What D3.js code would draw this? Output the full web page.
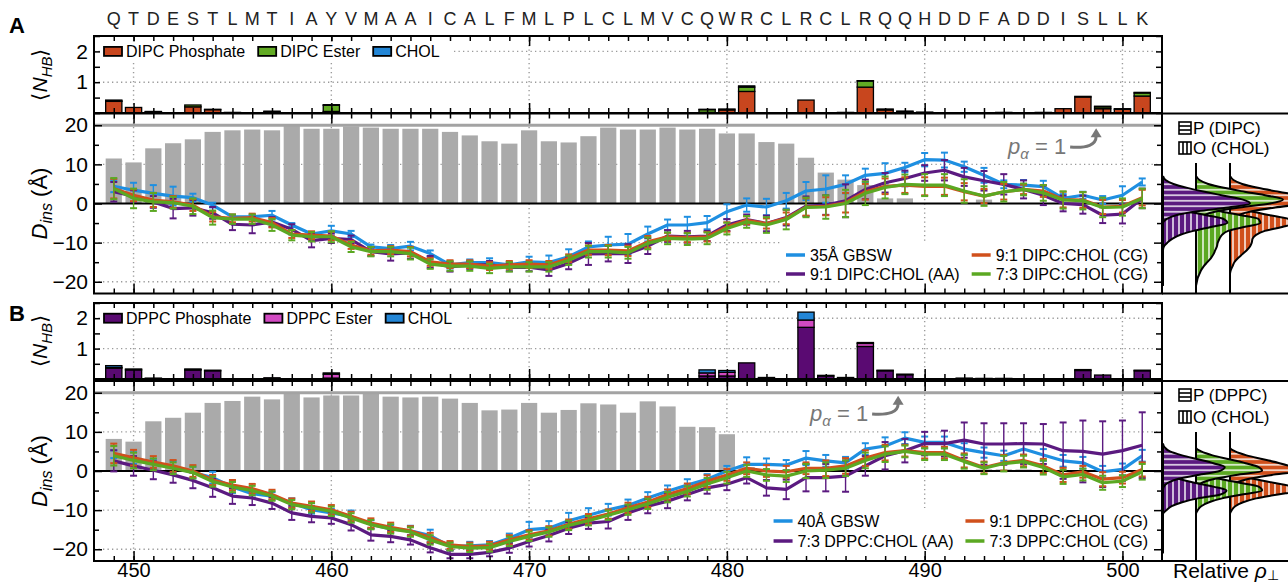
<!DOCTYPE html>
<html><head><meta charset="utf-8">
<script src="https://cdn.jsdelivr.net/npm/d3@7"></script>
<style>body{margin:0;background:#fff}svg{display:block}</style>
</head><body>
<svg id="c" width="1288" height="584"></svg>
<script>
// ---------------- DATA ----------------
const residues = [449,450,451,452,453,454,455,456,457,458,459,460,461,462,463,464,465,466,467,468,469,470,471,472,473,474,475,476,477,478,479,480,481,482,483,484,485,486,487,488,489,490,491,492,493,494,495,496,497,498,499,500,501];
const residueLetters = "QTDESTLMTIAYVMAAICALFMLPLCLMVCQWRCLRCLRQQHDDFADDISLLK".split("");
const xTickValues = [450,460,470,480,490,500];
const dTickLabels = [-20,-10,0,10,20];
const nhbTickLabels = [1,2];

// Panel A
const helixA = [11.5,10.5,14.1,15.4,16.4,18.3,18.7,18.9,18.7,19.8, 19.1,19.1,19.7,19.4,19.1,19.1,19.1,18.3,17.4,15.9, 15.3,18.7,15.9,15.6,17.2,19.4,18.9,18.9,19.4,18.9, 19.1,17.9,17.9,15.7,15.3,11.7,7.9,6.1,4.7,1.3, 1.3,0,0,0,1.0,0,0,0,0,0, 0,0,0];
const gbswA = [4.4,3.4,2.6,1.9,1.5,-0.4,-3.4,-3.4,-3.0,-5.5, -7.8,-7.0,-7.8,-11.1,-11.5,-10.9,-12.8,-15.7,-15.1,-15.1, -15.7,-14.9,-15.1,-13.6,-11.1,-10.6,-10.4,-7.8,-5.5,-5.5, -4.9,-2.1,-0.4,-0.9,0.7,3.2,3.7,4.9,7.2,7.7, 9.2,11.2,11.1,9.4,7.2,4.9,4.7,4.3,1.3,2.1, 0.9,2.1,5.5];
const gbswAErr = [1.5,1.9,2.1,2.4,1.0,0.6,0.5,0.5,1.1,0.5, 0.5,1.3,0.8,0.6,0.9,1.1,0.8,0.9,0.8,1.1, 0.8,1.3,1.8,1.9,1.4,2.1,2.6,1.9,1.4,2.1, 1.7,1.9,1.7,2.1,2.0,2.3,3.5,2.3,1.7,2.6, 1.2,1.7,1.9,1.3,1.9,1.0,1.3,1.5,1.1,0.9, 1.0,2.3,0.9];
const aaA = [3.0,1.9,0.4,-1.3,-1.1,-2.4,-5.3,-5.5,-4.7,-6.6, -9.5,-8.9,-9.2,-12.3,-12.9,-12.6,-14.9,-16.2,-15.7,-15.7, -16.3,-16.3,-17.0,-15.3,-12.9,-12.8,-12.8,-10.9,-8.3,-8.5, -8.3,-5.5,-4.1,-5.1,-3.6,-0.7,-0.4,0.7,3.6,5.3, 6.4,7.8,8.5,6.8,5.8,4.9,3.6,2.1,0.0,-0.3, -3.0,-2.7,1.3];
const aaAErr = [2.5,1.5,1.5,2.5,2.0,1.5,1.5,2.1,1.2,1.3, 1.7,1.2,1.0,1.1,1.7,1.5,1.5,1.2,1.0,1.0, 1.0,1.0,1.5,1.5,2.8,2.0,2.4,2.0,1.5,1.5, 1.3,1.5,1.3,2.0,2.0,2.5,2.5,4.2,2.5,2.5, 2.0,2.0,2.6,2.3,2.5,2.6,2.3,2.5,2.0,2.3, 2.0,2.4,2.5];
const cg91A = [3.8,2.1,0.9,0.4,-0.4,-3.4,-3.8,-3.6,-4.9,-7.8, -8.1,-8.3,-10.6,-12.1,-11.9,-12.3,-14.9,-15.5,-15.5,-16.0, -15.7,-15.5,-15.7,-14.0,-11.9,-11.9,-12.1,-9.8,-8.5,-8.7, -8.5,-6.0,-4.3,-5.1,-3.8,-0.9,-0.7,0.2,3.0,4.4, 4.7,4.4,4.4,3.0,1.9,3.0,3.6,3.2,1.0,0.9, -0.9,-0.7,1.5];
const cg91AErr = [2.5,1.5,1.8,1.5,1.5,1.2,1.0,1.0,1.2,1.0, 1.0,1.1,1.0,1.0,1.0,1.2,1.0,1.0,1.0,1.0, 1.0,1.0,1.0,1.0,1.2,1.3,1.3,1.5,1.0,1.2, 1.2,1.2,1.0,1.3,1.5,2.2,2.3,2.5,2.0,2.0, 2.0,2.3,2.2,2.2,1.8,2.0,1.2,1.5,2.0,2.0, 1.8,1.6,2.0];
const cg73A = [3.8,1.3,0.4,0.2,-0.7,-3.6,-4.0,-4.0,-5.5,-8.1, -8.5,-8.5,-11.1,-12.3,-12.3,-12.8,-15.5,-16.0,-16.0,-16.6, -16.2,-16.2,-16.2,-14.5,-12.3,-12.3,-12.6,-10.2,-8.9,-9.1, -8.9,-6.4,-4.7,-5.5,-4.1,-1.0,-0.9,0.0,2.6,4.1, 4.9,4.7,4.7,3.2,1.9,3.0,3.6,2.7,0.9,0.7, -1.0,-0.9,1.3];
const cg73AErr = [2.7,2.5,2.3,1.5,2.0,1.8,1.2,1.2,1.5,1.3, 1.2,1.4,1.3,1.2,1.2,1.5,1.2,1.2,1.2,1.2, 1.2,1.2,1.2,1.2,1.5,1.5,1.5,1.5,1.5,1.5, 1.5,1.5,1.5,2.0,2.5,2.5,3.0,3.5,3.0,2.8, 2.5,2.8,2.8,3.0,2.5,2.5,1.5,2.0,2.2,2.2, 2.5,2.2,2.5];
const hbPhosA = [0.38,0.18,0.04,0.01,0.20,0.11,0.02,0,0.04,0, 0,0.05,0,0,0,0,0,0,0,0, 0,0,0,0,0,0,0,0,0,0, 0.02,0.10,0.70,0,0.01,0.42,0.01,0.02,0.84,0.10, 0.05,0.03,0.01,0,0.01,0.02,0.01,0.02,0.14,0.52, 0.14,0.12,0.55];
const hbEsterA = [0.01,0,0,0,0.06,0.01,0,0,0,0, 0,0.20,0,0,0,0,0,0,0,0, 0,0,0,0,0,0,0,0,0,0, 0.09,0.03,0.14,0,0,0,0,0,0.20,0, 0,0,0,0,0,0,0,0,0,0, 0.06,0,0.10];
const hbCholA = [0.03,0,0.01,0,0,0,0,0,0.02,0, 0,0.02,0,0,0,0,0,0,0,0, 0,0,0,0,0,0,0,0,0,0, 0.01,0,0.04,0,0,0,0,0,0.01,0.03, 0.01,0,0,0,0,0,0,0,0,0.02, 0.02,0.02,0.02];

// Panel B
const helixB = [8.2,7.5,12.7,13.6,14.9,17.4,17.9,19.0,18.3,19.7, 18.8,19.3,19.3,19.9,19.0,18.8,19.0,18.5,17.4,15.5, 15.7,17.4,14.9,15.6,17.3,17.0,14.9,17.8,16.5,11.3, 11.2,9.4,1.0,0,0,0,0,0,0,0, 0,0,0,0,0.4,0.4,0.4,0,0,0, 0,0,0];
const gbswB = [4.3,3.3,1.9,1.0,-0.4,-1.7,-4.1,-5.8,-6.4,-8.2, -9.9,-10.7,-11.6,-13.6,-14.8,-15.3,-16.5,-19.3,-19.1,-18.9, -17.2,-15.0,-14.6,-12.7,-11.3,-9.9,-8.8,-6.9,-5.2,-3.6, -2.1,0.0,1.7,1.7,1.5,3.3,2.6,2.1,5.6,6.4, 8.4,7.3,7.3,5.6,4.7,3.9,5.6,4.1,2.6,2.1, -0.2,0.4,3.9];
const gbswBErr = [1.0,1.5,1.2,1.5,1.5,1.5,1.5,1.0,1.0,1.2, 1.0,1.0,1.5,1.0,1.0,1.3,1.5,1.0,1.0,1.0, 1.2,2.0,1.8,2.0,1.8,1.5,1.5,1.5,1.5,1.5, 1.3,1.3,1.8,1.5,1.3,1.8,1.5,1.5,1.5,2.2, 1.5,1.5,1.5,1.5,1.3,1.3,1.5,1.5,1.5,1.5, 1.5,1.5,1.5];
const aaB = [2.6,1.3,0.2,-1.0,-2.4,-4.3,-6.4,-6.9,-8.2,-10.7, -11.6,-12.0,-13.7,-16.3,-16.7,-17.6,-19.6,-21.3,-21.3,-20.8, -19.7,-18.0,-16.5,-14.6,-13.3,-12.9,-10.7,-9.0,-7.7,-6.0, -4.3,-3.4,-1.7,-4.3,-4.7,-1.7,-1.7,-1.3,1.3,3.9, 5.2,7.0,7.0,7.9,6.9,6.9,7.0,6.9,5.2,5.0, 4.3,5.2,6.6];
const aaBErr = [2.7,2.5,2.3,2.0,2.0,2.3,2.0,1.8,1.5,1.8, 1.5,1.5,1.5,1.5,1.5,1.2,1.2,1.0,1.0,1.0, 1.2,1.3,1.5,1.5,1.5,1.8,1.8,1.8,1.8,1.5, 1.5,1.5,1.5,2.0,2.5,3.5,3.5,4.0,2.5,3.5, 3.0,3.0,3.3,4.5,5.3,5.3,5.2,5.1,7.2,7.9, 8.4,7.7,8.4];
const cg91B = [4.5,3.4,2.3,1.3,0.0,-2.3,-3.6,-4.5,-6.0,-8.2, -9.0,-9.9,-11.6,-13.3,-14.4,-15.3,-17.0,-18.9,-19.3,-19.1, -17.6,-16.3,-15.3,-13.6,-12.2,-11.0,-9.4,-7.9,-6.0,-4.5, -2.6,-1.0,0.7,0.0,-0.2,0.7,0.7,1.3,3.3,4.7, 5.2,4.7,4.7,2.7,0.9,2.1,2.7,1.3,-1.0,-0.2, -2.1,-1.7,0.4];
const cg91BErr = [2.5,2.0,1.5,1.5,1.5,1.3,1.3,1.2,1.2,1.2, 1.2,1.2,1.2,1.2,1.2,1.2,1.2,1.0,1.0,1.0, 1.2,1.2,1.2,1.2,1.2,1.2,1.3,1.3,1.3,1.3, 1.5,1.5,1.5,1.5,1.5,1.5,2.0,2.0,2.0,2.0, 1.5,1.5,1.5,1.8,1.5,2.0,1.5,1.8,1.8,1.5, 1.8,1.5,1.8];
const cg73B = [3.9,2.7,1.7,0.7,-0.4,-2.7,-4.1,-5.0,-6.4,-8.6, -9.4,-10.3,-12.0,-13.7,-14.8,-15.6,-17.6,-19.3,-19.7,-19.6, -18.0,-16.7,-15.6,-13.9,-12.7,-11.3,-9.9,-8.4,-6.7,-5.2, -3.3,-1.7,0.0,-1.0,-1.3,0.0,0.2,0.7,2.7,4.3, 5.0,4.3,4.3,2.4,0.7,1.9,2.4,0.9,-1.5,-0.9, -3.0,-2.6,-0.2];
const cg73BErr = [2.5,2.0,1.5,1.5,1.5,1.3,1.3,1.2,1.2,1.2, 1.2,1.2,1.2,1.2,1.2,1.2,1.2,1.0,1.0,1.0, 1.2,1.2,1.2,1.2,1.2,1.2,1.3,1.3,1.3,1.3, 1.5,1.5,1.5,1.5,1.5,1.8,2.0,2.0,2.0,2.0, 1.5,1.5,1.5,1.8,1.5,2.0,1.5,1.8,1.8,1.5, 1.8,1.5,2.0];
const hbPhosB = [0.36,0.30,0.03,0.01,0.30,0.27,0.01,0,0.04,0, 0,0.03,0,0,0,0,0,0,0,0, 0,0,0,0,0,0,0,0,0,0, 0.10,0.10,0.53,0.05,0.01,1.70,0.10,0.05,1.07,0.27, 0.14,0.01,0.01,0.03,0.02,0.02,0.01,0.01,0.01,0.28, 0.13,0.01,0.27];
const hbEsterB = [0.02,0,0,0,0.01,0,0,0,0,0, 0,0.13,0,0,0,0,0,0,0,0, 0,0,0,0,0,0,0,0,0,0, 0.10,0.12,0,0,0,0.24,0,0,0.10,0, 0,0,0,0,0,0,0,0,0,0, 0,0,0];
const hbCholB = [0.06,0.03,0,0,0.02,0.02,0,0,0,0, 0,0.04,0,0,0,0,0,0,0,0, 0,0,0,0,0,0,0,0,0,0, 0.10,0.06,0,0,0,0.26,0.02,0,0.03,0.02, 0.02,0,0,0,0,0,0,0,0,0.03, 0,0,0.02];

// Side panels: relative density profiles vs depth
const zGrid = [7,6,5,4,3,2,1,0,-1,-2,-3,-4,-5,-6,-7,-8,-9,-10,-11,-12,-13,-14,-15,-16,-17,-18,-19,-20,-21];
const rhoPurpleA_P = [0,0.03,0.12,0.28,0.48,0.70,0.92,1.0,0.75,0.40,0.15,0.04,0,0,0,0,0,0,0,0,0,0,0,0,0,0,0,0,0];
const rhoPurpleA_O = [0,0,0,0,0,0,0,0.04,0.12,0.27,0.50,0.70,0.74,0.55,0.35,0.20,0.11,0.05,0.01,0,0,0,0,0,0,0,0,0,0];
const rhoGreenA_P  = [0,0.04,0.14,0.32,0.56,0.82,1.0,0.85,0.50,0.24,0.09,0.02,0,0,0,0,0,0,0,0,0,0,0,0,0,0,0,0,0];
const rhoGreenA_O  = [0,0,0,0,0,0,0,0.04,0.12,0.28,0.52,0.72,0.74,0.55,0.37,0.30,0.27,0.25,0.24,0.22,0.20,0.17,0.13,0.09,0.06,0.04,0.02,0.01,0];
const rhoOrangeA_P = [0,0.04,0.14,0.32,0.56,0.82,1.0,0.88,0.52,0.25,0.09,0.02,0,0,0,0,0,0,0,0,0,0,0,0,0,0,0,0,0];
const rhoOrangeA_O = [0,0,0,0,0,0,0,0.03,0.10,0.24,0.46,0.68,0.74,0.60,0.40,0.30,0.26,0.25,0.23,0.19,0.14,0.09,0.05,0.03,0.01,0,0,0,0];
const rhoPurpleB_P = [0,0.02,0.08,0.22,0.40,0.58,0.71,0.65,0.40,0.18,0.06,0.01,0,0,0,0,0,0,0,0,0,0,0,0,0,0,0,0,0];
const rhoPurpleB_O = [0,0,0,0,0,0,0,0.02,0.07,0.18,0.36,0.58,0.73,0.66,0.40,0.22,0.10,0.04,0,0,0,0,0,0,0,0,0,0,0];
const rhoGreenB_P  = [0,0,0.06,0.19,0.38,0.57,0.72,0.76,0.46,0.22,0.07,0.02,0,0,0,0,0,0,0,0,0,0,0,0,0,0,0,0,0];
const rhoGreenB_O  = [0,0,0,0,0,0,0,0.04,0.11,0.27,0.50,0.72,0.76,0.53,0.30,0.15,0.06,0.02,0,0,0,0,0,0,0,0,0,0,0];
const rhoOrangeB_P = [0,0,0.06,0.19,0.38,0.57,0.72,0.78,0.48,0.22,0.07,0.02,0,0,0,0,0,0,0,0,0,0,0,0,0,0,0,0,0];
const rhoOrangeB_O = [0,0,0,0,0,0,0,0.04,0.11,0.27,0.50,0.72,0.78,0.55,0.30,0.15,0.06,0.02,0,0,0,0,0,0,0,0,0,0,0];

// ---------------- STYLE ----------------
const FONT = '"Liberation Sans", Arial, Helvetica, sans-serif';
const C = {blue:"#1e8fe1", purple:"#5b1a80", orange:"#d0501c", green:"#5ba822", gray:"#aaaaaa",
  phosA:"#c8461e", esterA:"#62ab24", chol:"#2386d6", phosB:"#5a0a72", esterB:"#d24ac2", grid:"#9a9a9a"};

const svg = d3.select("#c").style("font-family", FONT);
const defs = svg.append("defs");
const x = d3.scaleLinear().domain([448,502]).range([94,1162]);
const unit = x(449) - x(448);
const barW = unit * 0.82;
const X0 = 94, X1 = 1162;

function mkPattern(id, color, dir){
  const w = dir === "h" ? 8 : 6, h = dir === "h" ? 5.5 : 8;
  const p = defs.append("pattern").attr("id", id).attr("patternUnits","userSpaceOnUse").attr("width", w).attr("height", h);
  p.append("rect").attr("width", w).attr("height", h).attr("fill", color);
  if (dir === "h") p.append("line").attr("x1",0).attr("x2",w).attr("y1",h/2).attr("y2",h/2).attr("stroke","#fff").attr("stroke-width",1.4);
  else p.append("line").attr("x1",w/2).attr("x2",w/2).attr("y1",0).attr("y2",h).attr("stroke","#fff").attr("stroke-width",1.4);
}
[["purple",C.purple],["green",C.green],["orange",C.orange]].forEach(([n,c]) => { mkPattern("ph-"+n, c, "h"); mkPattern("pv-"+n, c, "v"); });

function styleAxis(g){ g.select(".domain").remove(); g.selectAll(".tick line").attr("stroke","#000").attr("stroke-width",1.5); g.selectAll("text").attr("font-family",FONT).attr("fill","#000"); }

function xTicks(yTop, yBot){
  [[yBot, d3.axisBottom], [yTop, d3.axisTop]].forEach(([yy, ax]) => {
    svg.append("g").attr("transform",`translate(0,${yy})`).call(ax(x).tickValues(residues).tickSize(-5).tickFormat("")).call(styleAxis);
    svg.append("g").attr("transform",`translate(0,${yy})`).call(ax(x).tickValues(xTickValues).tickSize(-10).tickFormat("")).call(styleAxis);
  });
}
function vGrid(yTop, yBot){
  svg.append("g").selectAll("line").data(xTickValues).join("line")
    .attr("x1", d => x(d)).attr("x2", d => x(d)).attr("y1", yTop).attr("y2", yBot)
    .attr("stroke", C.grid).attr("stroke-width",1.4).attr("stroke-dasharray","1.3,3.2");
}
function hGrid(y, vals){
  svg.append("g").selectAll("line").data(vals).join("line")
    .attr("x1", X0).attr("x2", X1).attr("y1", d => y(d)).attr("y2", d => y(d))
    .attr("stroke", C.grid).attr("stroke-width",1.4).attr("stroke-dasharray","1.3,3.2");
}
function frame(yTop, yBot){
  svg.append("rect").attr("x",X0).attr("y",yTop).attr("width",X1-X0).attr("height",yBot-yTop)
    .attr("fill","none").attr("stroke","#000").attr("stroke-width",2);
}

// ---------------- NHB PANEL ----------------
function drawNHB(yTop, yBot, phos, ester, chol, cols, names){
  const y = d3.scaleLinear().domain([0,2.5]).range([yBot, yTop]);
  vGrid(yTop, yBot);
  hGrid(y, [1,2]);
  const rows = residues.map((r,i) => ({r, p:phos[i], e:ester[i], c:chol[i]}));
  const stack = d3.stack().keys(["p","e","c"])(rows);
  const colorOf = {p:cols[0], e:cols[1], c:cols[2]};
  stack.forEach(layer => {
    svg.append("g").selectAll("rect").data(layer.filter(d => d[1]-d[0] > 0)).join("rect")
      .attr("x", d => x(d.data.r) - barW/2).attr("width", barW)
      .attr("y", d => y(d[1])).attr("height", d => Math.max(0.4, y(d[0]) - y(d[1])))
      .attr("fill", colorOf[layer.key]).attr("stroke","#000").attr("stroke-width",1.3);
  });
  xTicks(yTop, yBot);
  const yt = d3.range(0, 2.51, 0.5);
  svg.append("g").attr("transform",`translate(${X0},0)`).call(d3.axisLeft(y).tickValues(yt).tickSize(-6).tickFormat("")).call(styleAxis);
  svg.append("g").attr("transform",`translate(${X1},0)`).call(d3.axisRight(y).tickValues(yt).tickSize(-6).tickFormat("")).call(styleAxis);
  svg.append("g").attr("transform",`translate(${X0},0)`).call(d3.axisLeft(y).tickValues(nhbTickLabels).tickSize(0).tickPadding(6).tickFormat(d3.format("d")))
    .call(styleAxis).selectAll("text").attr("font-size",21);
  // legend
  const lg = svg.append("g");
  const bg = lg.append("rect").attr("fill","#fff");
  let cx = 104; const cy = y(2);
  names.forEach((n,i) => {
    lg.append("rect").attr("x",cx).attr("y",cy-4.5).attr("width",18).attr("height",9).attr("fill",cols[i]).attr("stroke","#000").attr("stroke-width",1.8);
    const t = lg.append("text").attr("x",cx+22).attr("y",cy+6).attr("font-size",16).text(n);
    cx += 22 + t.node().getComputedTextLength() + 13;
  });
  bg.attr("x",100).attr("y",cy-10).attr("width",cx-100).attr("height",20);
  frame(yTop, yBot);
  // y label
  const tl = svg.append("text").attr("transform",`translate(47,${(yTop+yBot)/2}) rotate(-90)`).attr("text-anchor","middle").attr("font-size",21);
  tl.append("tspan").text("\u27E8");
  tl.append("tspan").attr("font-style","italic").text("N");
  tl.append("tspan").attr("font-style","italic").attr("font-size",15).attr("dy",5).text("HB");
  tl.append("tspan").attr("dy",-5).text("\u27E9");
}

// ---------------- D PANEL ----------------
function drawD(yTop, yBot, helix, series, pa, legendRows, showXLabels){
  const y = d3.scaleLinear().domain([-23,23]).range([yBot, yTop]);
  vGrid(yTop, yBot);
  hGrid(y, [10,-10,-20]);
  // helicity bars (scaled so p_alpha = 1 -> 20)
  svg.append("g").selectAll("rect").data(residues.map((r,i)=>({r,v:helix[i]})).filter(d=>d.v>0)).join("rect")
    .attr("x", d => x(d.r) - barW/2).attr("width", barW)
    .attr("y", d => y(d.v)).attr("height", d => y(0) - y(d.v)).attr("fill", C.gray);
  svg.append("line").attr("x1",X0).attr("x2",X1).attr("y1",y(20)).attr("y2",y(20)).attr("stroke","#a3a3a3").attr("stroke-width",3);
  svg.append("line").attr("x1",X0).attr("x2",X1).attr("y1",y(0)).attr("y2",y(0)).attr("stroke","#000").attr("stroke-width",2.2);
  // series
  series.forEach(s => {
    const pts = residues.map((r,i) => ({r, v:s.vals[i], e:s.err[i]}));
    const eg = svg.append("g").attr("stroke", s.color).attr("stroke-width",1.4);
    eg.selectAll("line.v").data(pts).join("line").attr("class","v")
      .attr("x1", d=>x(d.r)).attr("x2", d=>x(d.r)).attr("y1", d=>y(d.v-d.e)).attr("y2", d=>y(d.v+d.e));
    eg.selectAll("line.t").data(pts).join("line").attr("class","t")
      .attr("x1", d=>x(d.r)-3.5).attr("x2", d=>x(d.r)+3.5).attr("y1", d=>y(d.v+d.e)).attr("y2", d=>y(d.v+d.e)).attr("stroke-width",2);
    eg.selectAll("line.b").data(pts).join("line").attr("class","b")
      .attr("x1", d=>x(d.r)-3.5).attr("x2", d=>x(d.r)+3.5).attr("y1", d=>y(d.v-d.e)).attr("y2", d=>y(d.v-d.e)).attr("stroke-width",2);
    svg.append("path").datum(pts).attr("fill","none").attr("stroke", s.color).attr("stroke-width",3.2)
      .attr("stroke-linejoin","round").attr("d", d3.line().x(d=>x(d.r)).y(d=>y(d.v)));
  });
  // legend
  const lg = svg.append("g");
  const bg = lg.append("rect").attr("fill","#fff");
  const col2 = [series[2], series[3]], col1 = [series[0], series[1]];
  const tmp = lg.append("g");
  const wOf = s => { const t = tmp.append("text").attr("font-size",16).text(s.name); const w = t.node().getComputedTextLength(); t.remove(); return w; };
  const w2 = d3.max(col2, wOf), w1 = d3.max(col1, wOf);
  const t2x = 1148 - w2, s2x = t2x - 24, t1x = s2x - 12 - w1, s1x = t1x - 24;
  [[col1, s1x, t1x],[col2, s2x, t2x]].forEach(([col, sx, tx]) => {
    col.forEach((s,i) => {
      const yy = legendRows[i];
      lg.append("line").attr("x1",sx).attr("x2",sx+19).attr("y1",yy).attr("y2",yy).attr("stroke",s.color).attr("stroke-width",3.5);
      lg.append("text").attr("x",tx).attr("y",yy+6).attr("font-size",16).text(s.name);
    });
  });
  bg.attr("x", s1x-6).attr("y", legendRows[0]-13).attr("width", X1-(s1x-6)-2).attr("height", legendRows[1]-legendRows[0]+28);
  // p_alpha annotation
  const pt = svg.append("text").attr("x",pa.x).attr("y",pa.y).attr("font-size",22).attr("fill","#777");
  pt.append("tspan").attr("font-style","italic").text("p");
  pt.append("tspan").attr("font-style","italic").attr("font-size",15).attr("dy",5).text("\u03B1");
  pt.append("tspan").attr("dy",-5).text(" = 1");
  const bb = pt.node().getBBox();
  const ex = bb.x + bb.width;
  const ax0 = ex + 4, ay0 = pa.y - 7, tipX = ex + 30, tipY = y(20) + 3;
  svg.append("path").attr("d",`M${ax0},${ay0} Q${tipX},${ay0+2} ${tipX},${tipY+8}`).attr("fill","none").attr("stroke","#777").attr("stroke-width",3);
  svg.append("path").attr("d",`M${tipX},${tipY} L${tipX-5.5},${tipY+9} L${tipX+5.5},${tipY+9} Z`).attr("fill","#777");
  // ticks
  xTicks(yTop, yBot);
  const yMaj = [-20,-10,0,10,20], yMin = [-15,-5,5,15];
  [[yMaj,-8],[yMin,-5]].forEach(([vals,len]) => {
    svg.append("g").attr("transform",`translate(${X0},0)`).call(d3.axisLeft(y).tickValues(vals).tickSize(len).tickFormat("")).call(styleAxis);
    svg.append("g").attr("transform",`translate(${X1},0)`).call(d3.axisRight(y).tickValues(vals).tickSize(len).tickFormat("")).call(styleAxis);
  });
  svg.append("g").attr("transform",`translate(${X0},0)`).call(d3.axisLeft(y).tickValues(dTickLabels).tickSize(0).tickPadding(6).tickFormat(d => d < 0 ? "\u2212" + Math.abs(d) : d))
    .call(styleAxis).selectAll("text").attr("font-size",21);
  if (showXLabels){
    svg.append("g").attr("transform",`translate(0,${yBot})`).call(d3.axisBottom(x).tickValues(xTickValues).tickSize(0).tickPadding(2).tickFormat(d3.format("d")))
      .call(styleAxis).selectAll("text").attr("font-size",20);
  }
  frame(yTop, yBot);
  // y label
  const tl = svg.append("text").attr("transform",`translate(47,${(yTop+yBot)/2}) rotate(-90)`).attr("text-anchor","middle").attr("font-size",22);
  tl.append("tspan").attr("font-style","italic").text("D");
  tl.append("tspan").attr("font-style","italic").attr("font-size",16).attr("dy",5).text("ins");
  tl.append("tspan").attr("dy",-5).text(" (\u00C5)");
  return y;
}

// ---------------- SIDE PANEL ----------------
function drawSide(y, yTop, yBot, baseTop, systems, lipid, legY){
  const clipId = "clip" + Math.round(yTop);
  defs.append("clipPath").attr("id", clipId).append("rect").attr("x",X1).attr("y",yTop).attr("width",1288-X1).attr("height",yBot-yTop);
  const g = svg.append("g").attr("clip-path",`url(#${clipId})`);
  const wS = d3.scaleLinear().domain([0,1]).range([0,87]);
  systems.forEach(s => {
    if (s.base > X1 + 1) g.append("line").attr("x1",s.base).attr("x2",s.base).attr("y1",baseTop).attr("y2",yBot).attr("stroke","#000").attr("stroke-width",2);
  });
  systems.forEach(s => {
    [["O","pv-"],["P","ph-"]].forEach(([k,pre]) => {
      const pts = zGrid.map((z,i) => ({z, v:s[k][i]}));
      const area = d3.area().curve(d3.curveMonotoneY).y(d=>y(d.z)).x0(s.base).x1(d=>s.base+wS(d.v));
      g.append("path").datum(pts).attr("d",area).attr("fill",`url(#${pre}${s.name})`).attr("stroke","#000").attr("stroke-width",2);
    });
  });
  svg.append("line").attr("x1",X1).attr("x2",1288).attr("y1",yTop).attr("y2",yTop).attr("stroke","#000").attr("stroke-width",2);
  svg.append("line").attr("x1",X1).attr("x2",1288).attr("y1",yBot).attr("y2",yBot).attr("stroke","#000").attr("stroke-width",2);
  // legend
  const items = [["h", `P (${lipid})`], ["v", "O (CHOL)"]];
  items.forEach(([dir, label], i) => {
    const by = legY[i] - 6, bx = 1179;
    svg.append("rect").attr("x",bx).attr("y",by).attr("width",12).attr("height",12).attr("fill","#fff").attr("stroke","#000").attr("stroke-width",1.6);
    [1,2].forEach(j => {
      if (dir === "h") svg.append("line").attr("x1",bx).attr("x2",bx+12).attr("y1",by+j*4).attr("y2",by+j*4).attr("stroke","#000").attr("stroke-width",1.6);
      else svg.append("line").attr("x1",bx+j*4).attr("x2",bx+j*4).attr("y1",by).attr("y2",by+12).attr("stroke","#000").attr("stroke-width",1.6);
    });
    svg.append("text").attr("x",bx+14).attr("y",legY[i]+6).attr("font-size",17).text(label);
  });
}

// ---------------- LAYOUT & DRAW ----------------
svg.append("g").selectAll("text").data(residues.map((r,i)=>({r,l:residueLetters[i]}))).join("text")
  .attr("x", d => x(d.r)).attr("y", 25).attr("text-anchor","middle").attr("font-size",18).attr("fill","#222").text(d => d.l);
svg.append("text").attr("x",9).attr("y",33).attr("font-size",22).attr("font-weight","bold").text("A");
svg.append("text").attr("x",9).attr("y",321).attr("font-size",22).attr("font-weight","bold").text("B");

drawNHB(36, 113, hbPhosA, hbEsterA, hbCholA, [C.phosA, C.esterA, C.chol], ["DIPC Phosphate","DIPC Ester","CHOL"]);
const yA = drawD(113.5, 293.5, helixA, [
  {name:"35\u00C5 GBSW", vals:gbswA, err:gbswAErr, color:C.blue},
  {name:"9:1 DIPC:CHOL (AA)", vals:aaA, err:aaAErr, color:C.purple},
  {name:"9:1 DIPC:CHOL (CG)", vals:cg91A, err:cg91AErr, color:C.orange},
  {name:"7:3 DIPC:CHOL (CG)", vals:cg73A, err:cg73AErr, color:C.green}
], {x:1008, y:154}, [255, 274], false);
drawSide(yA, 113.5, 293.5, 163, [
  {name:"orange", base:1230, P:rhoOrangeA_P, O:rhoOrangeA_O},
  {name:"green", base:1196, P:rhoGreenA_P, O:rhoGreenA_O},
  {name:"purple", base:1163, P:rhoPurpleA_P, O:rhoPurpleA_O}
], "DIPC", [128, 148]);

drawNHB(303, 379, hbPhosB, hbEsterB, hbCholB, [C.phosB, C.esterB, C.chol], ["DPPC Phosphate","DPPC Ester","CHOL"]);
const yB = drawD(381, 561, helixB, [
  {name:"40\u00C5 GBSW", vals:gbswB, err:gbswBErr, color:C.blue},
  {name:"7:3 DPPC:CHOL (AA)", vals:aaB, err:aaBErr, color:C.purple},
  {name:"9:1 DPPC:CHOL (CG)", vals:cg91B, err:cg91BErr, color:C.orange},
  {name:"7:3 DPPC:CHOL (CG)", vals:cg73B, err:cg73BErr, color:C.green}
], {x:810, y:421}, [521, 541], true);
drawSide(yB, 381, 561, 432, [
  {name:"orange", base:1230, P:rhoOrangeB_P, O:rhoOrangeB_O},
  {name:"green", base:1196, P:rhoGreenB_P, O:rhoGreenB_O},
  {name:"purple", base:1163, P:rhoPurpleB_P, O:rhoPurpleB_O}
], "DPPC", [395, 417]);

const rl = svg.append("text").attr("x",1173).attr("y",578).attr("font-size",21);
rl.append("tspan").text("Relative ");
rl.append("tspan").attr("font-style","italic").text("\u03C1");
rl.append("tspan").attr("font-size",14).attr("dy",2).text("\u22A5");
</script>
</body></html>
